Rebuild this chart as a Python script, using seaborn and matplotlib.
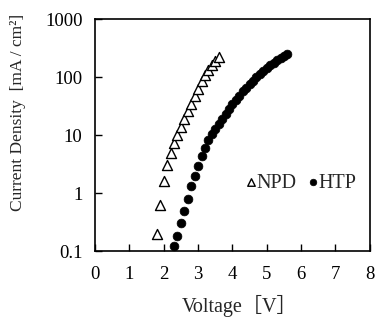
import pandas as pd
import matplotlib.pyplot as plt
import seaborn as sns

# J-V data
npd_voltage = [1.8, 1.9, 2.0, 2.1, 2.2, 2.3, 2.4, 2.5, 2.6, 2.7,
               2.8, 2.9, 3.0, 3.1, 3.2, 3.3, 3.4, 3.5, 3.6]
npd_current = [0.2, 0.63, 1.6, 3.0, 4.9, 7.3, 10.1, 14, 19, 26,
               35, 47, 63, 85, 108, 134, 160, 187, 224]

htp_voltage = [2.3, 2.4, 2.5, 2.6, 2.7, 2.8, 2.9, 3.0, 3.1, 3.2,
               3.3, 3.4, 3.5, 3.6, 3.7, 3.8, 3.9, 4.0, 4.1, 4.2,
               4.3, 4.4, 4.5, 4.6, 4.7, 4.8, 4.9, 5.0, 5.1, 5.2,
               5.3, 5.4, 5.5, 5.6]
htp_current = [0.12, 0.18, 0.30, 0.50, 0.79, 1.3, 2.0, 2.9, 4.3, 6.0,
               8.3, 10.5, 13, 15.5, 19, 23, 28, 34, 40, 48,
               57, 66, 76, 87, 100, 115, 130, 145, 160, 177,
               195, 213, 232, 250]

x_ticks = [0, 1, 2, 3, 4, 5, 6, 7, 8]
y_ticks = [0.1, 1, 10, 100, 1000]
y_tick_labels = ["0.1", "1", "10", "100", "1000"]

npd = pd.DataFrame({"Voltage": npd_voltage, "Current": npd_current})
htp = pd.DataFrame({"Voltage": htp_voltage, "Current": htp_current})

sns.set_style("ticks")
plt.rcParams["font.family"] = ["Liberation Serif", "Noto Sans CJK JP"]

fig = plt.figure(figsize=(3.77, 3.21), dpi=100)
ax = fig.add_axes([0.252, 0.218, 0.729, 0.722])

sns.scatterplot(data=npd, x="Voltage", y="Current", ax=ax, marker="^",
                s=52, facecolor="white", edgecolor="black", linewidth=1.0,
                label="NPD")
sns.scatterplot(data=htp, x="Voltage", y="Current", ax=ax, marker="o",
                s=40, color="black", edgecolor="black", linewidth=0.5,
                label="HTP")

ax.set_yscale("log")
ax.set_xlim(0, 8)
ax.set_ylim(0.1, 1000)
ax.set_xticks(x_ticks)
ax.set_xticklabels([str(t) for t in x_ticks])
ax.set_yticks(y_ticks)
ax.set_yticklabels(y_tick_labels)
ax.minorticks_off()

ax.tick_params(axis="both", direction="in", length=5, width=1.0,
               labelsize=13.5, colors="black")
ax.tick_params(axis="x", pad=11)
ax.tick_params(axis="y", pad=9)
for spine in ax.spines.values():
    spine.set_linewidth(1.2)
    spine.set_color("black")

ax.set_xlabel("Voltage［V］", fontsize=14.5)
ax.set_ylabel("Current Density  [mA / cm²]", fontsize=12.5)
ax.xaxis.set_label_coords(0.527, -0.19)
ax.yaxis.set_label_coords(-0.25, 0.6)

ax.legend(ncol=2, frameon=False, loc="center left",
          bbox_to_anchor=(0.5, 0.293), handletextpad=-0.2,
          columnspacing=0.3, markerscale=0.75, fontsize=14.5,
          handlelength=1.0, borderaxespad=0)

plt.savefig("out.png", dpi=100)
